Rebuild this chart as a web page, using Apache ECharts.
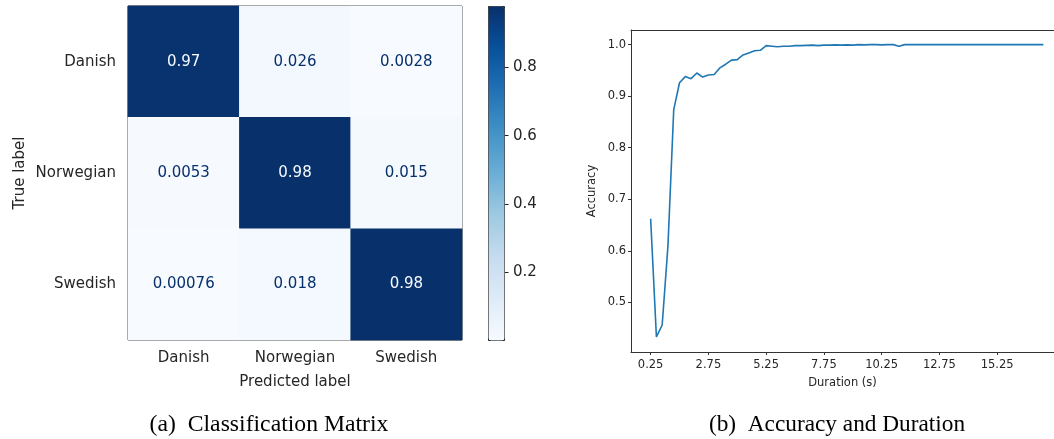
<!DOCTYPE html>
<html>
<head>
<meta charset="utf-8">
<script src="https://cdn.jsdelivr.net/npm/echarts@6/dist/echarts.min.js"></script>
<style>
  html, body { margin: 0; padding: 0; background: #fff; }
  #main { width: 1054px; height: 439px; }
</style>
</head>
<body>
<div id="main"></div>
<script>
// confusion matrix (rows = true label, cols = predicted label)
const languages = ['Danish', 'Norwegian', 'Swedish'];
const matrixRows = [
  [0.97, 0.026, 0.0028],
  [0.0053, 0.98, 0.015],
  [0.00076, 0.018, 0.98]
];
const colorbarTicks = [0.2, 0.4, 0.6, 0.8];
// Blues colormap
const blues = ['#f7fbff', '#deebf7', '#c6dbef', '#9ecae1', '#6baed6', '#4292c6', '#2171b5', '#08519c', '#08306b'];

// accuracy vs clip duration
const durations = [
  0.25, 0.5, 0.75, 1.0, 1.25, 1.5, 1.75, 2.0, 2.25, 2.5,
  2.75, 3.0, 3.25, 3.5, 3.75, 4.0, 4.25, 4.5, 4.75, 5.0,
  5.25, 5.5, 5.75, 6.0, 6.25, 6.5, 6.75, 7.0, 7.25, 7.5,
  7.75, 8.0, 8.25, 8.5, 8.75, 9.0, 9.25, 9.5, 9.75, 10.0,
  10.25, 10.5, 10.75, 11.0, 11.25, 11.5, 11.75, 12.0, 12.25, 12.5,
  12.75, 13.0, 13.25, 13.5, 13.75, 14.0, 14.25, 14.5, 14.75, 15.0,
  15.25, 15.5, 15.75, 16.0, 16.25, 16.5, 16.75, 17.0, 17.25
];
const accuracy = [
  0.662, 0.433, 0.456, 0.61, 0.874, 0.926, 0.938, 0.934, 0.945, 0.937,
  0.941, 0.942, 0.955, 0.962, 0.970, 0.971, 0.980, 0.984, 0.988, 0.989,
  0.998, 0.997, 0.996, 0.997, 0.997, 0.998, 0.998, 0.9985, 0.999, 0.998,
  0.999, 0.999, 0.9995, 0.999, 0.9995, 0.999, 1.0, 0.9995, 1.0, 1.0,
  0.9995, 1.0, 1.0, 0.997, 1.0, 1.0, 1.0, 1.0, 1.0, 1.0,
  1.0, 1.0, 1.0, 1.0, 1.0, 1.0, 1.0, 1.0, 1.0, 1.0,
  1.0, 1.0, 1.0, 1.0, 1.0, 1.0, 1.0, 1.0, 1.0
];
const durationTicks = [0.25, 2.75, 5.25, 7.75, 10.25, 12.75, 15.25];
const accuracyTicks = [0.5, 0.6, 0.7, 0.8, 0.9, 1.0];

const font = 'DejaVu Sans';
const txt = '#262626';
const spine = '#333';

let allVals = [].concat(...matrixRows);
let vMin = Math.min(...allVals), vMax = Math.max(...allVals);
let vMid = (vMin + vMax) / 2;

let heatData = [];
matrixRows.forEach((row, r) => {
  row.forEach((v, c) => {
    heatData.push({
      value: [c, r, v],
      label: { color: v < vMid ? '#08306b' : '#f7fbff' }
    });
  });
});

let mycharts = echarts.init(document.getElementById('main'), null, { renderer: 'canvas' });
let options = {
  animation: false,
  textStyle: { fontFamily: font },
  grid: [
    // heatmap
    { left: 128, top: 6, width: 334, height: 334, show: true, borderColor: '#222', borderWidth: 1, backgroundColor: 'transparent' },
    // colorbar axis
    { left: 488, top: 6, width: 16, height: 334, show: false },
    // line chart (right side is cut off by the picture edge)
    { left: 631, top: 30, right: 0, height: 322, show: false }
  ],
  xAxis: [
    {
      gridIndex: 0, type: 'category', data: languages,
      name: 'Predicted label', nameLocation: 'middle', nameGap: 35,
      nameTextStyle: { fontSize: 15, color: txt, fontFamily: font },
      axisLine: { show: false, onZero: false },
      axisTick: { alignWithLabel: true, length: 4.5, lineStyle: { color: '#222' } },
      axisLabel: { fontSize: 15, color: txt, margin: 11, fontFamily: font },
      splitLine: { show: false }
    },
    { gridIndex: 1, type: 'value', show: false, min: 0, max: 1 },
    {
      gridIndex: 2, type: 'value', min: -0.6, max: 17.71,
      name: 'Duration (s)', nameLocation: 'middle', nameGap: 25,
      nameTextStyle: { fontSize: 11.5, color: txt, fontFamily: font },
      axisLine: { show: true, onZero: false, lineStyle: { color: spine, width: 1 } },
      axisTick: { show: true, length: 3, lineStyle: { color: spine }, customValues: durationTicks },
      axisLabel: {
        fontSize: 11.5, color: txt, margin: 7, fontFamily: font,
        customValues: durationTicks,
        formatter: v => v.toFixed(2)
      },
      splitLine: { show: false }
    },
    {
      // top spine of the line chart
      gridIndex: 2, type: 'value', position: 'top', min: -0.6, max: 17.71,
      axisLine: { show: true, onZero: false, lineStyle: { color: spine, width: 1 } },
      axisTick: { show: false },
      axisLabel: { show: false },
      splitLine: { show: false }
    }
  ],
  yAxis: [
    {
      gridIndex: 0, type: 'category', data: languages, inverse: true,
      name: 'True label', nameLocation: 'middle', nameGap: 100, nameRotate: 90,
      nameTextStyle: { fontSize: 15, color: txt, fontFamily: font },
      axisLine: { show: false, onZero: false },
      axisTick: { alignWithLabel: true, length: 4.5, lineStyle: { color: '#222' } },
      axisLabel: { fontSize: 15, color: txt, margin: 12, fontFamily: font },
      splitLine: { show: false }
    },
    {
      gridIndex: 1, type: 'value', position: 'right', min: vMin, max: vMax,
      axisLine: { show: false, onZero: false },
      axisTick: { show: true, length: 4.5, lineStyle: { color: '#222' }, customValues: colorbarTicks },
      axisLabel: {
        fontSize: 15, color: txt, margin: 9, fontFamily: font,
        customValues: colorbarTicks,
        formatter: v => v.toFixed(1)
      },
      splitLine: { show: false }
    },
    {
      gridIndex: 2, type: 'value', min: 0.4036, max: 1.0284,
      name: 'Accuracy', nameLocation: 'middle', nameGap: 33, nameRotate: 90,
      nameTextStyle: { fontSize: 11.5, color: txt, fontFamily: font },
      axisLine: { show: true, onZero: false, lineStyle: { color: spine, width: 1 } },
      axisTick: { show: true, length: 3, lineStyle: { color: spine }, customValues: accuracyTicks },
      axisLabel: {
        fontSize: 11.5, color: txt, margin: 5, fontFamily: font,
        customValues: accuracyTicks,
        formatter: v => v.toFixed(1)
      },
      splitLine: { show: false }
    }
  ],
  visualMap: {
    type: 'continuous',
    seriesIndex: 0,
    min: vMin,
    max: vMax,
    calculable: false,
    realtime: false,
    left: 488,
    top: 6,
    itemWidth: 16,
    itemHeight: 334,
    padding: 0,
    text: null,
    showLabel: false,
    borderColor: '#222',
    borderWidth: 1,
    inRange: { color: blues }
  },
  series: [
    {
      type: 'heatmap',
      xAxisIndex: 0,
      yAxisIndex: 0,
      data: heatData,
      label: {
        show: true,
        fontSize: 15,
        fontFamily: font,
        formatter: p => String(Number(p.value[2].toPrecision(2)))
      },
      emphasis: { disabled: true }
    },
    {
      type: 'line',
      xAxisIndex: 2,
      yAxisIndex: 2,
      data: durations.map((d, i) => [d, accuracy[i]]),
      showSymbol: false,
      lineStyle: { color: '#1f77b4', width: 1.6 },
      itemStyle: { color: '#1f77b4' }
    }
  ],
  graphic: [
    {
      type: 'text', x: 269, y: 425,
      style: {
        text: '(a)  Classification Matrix',
        font: '23.7px "Liberation Serif"', fill: '#000',
        align: 'center', verticalAlign: 'middle'
      }
    },
    {
      type: 'text', x: 837, y: 425,
      style: {
        text: '(b)  Accuracy and Duration',
        font: '23.3px "Liberation Serif"', fill: '#000',
        align: 'center', verticalAlign: 'middle'
      }
    }
  ]
};
mycharts.setOption(options);
</script>
</body>
</html>
